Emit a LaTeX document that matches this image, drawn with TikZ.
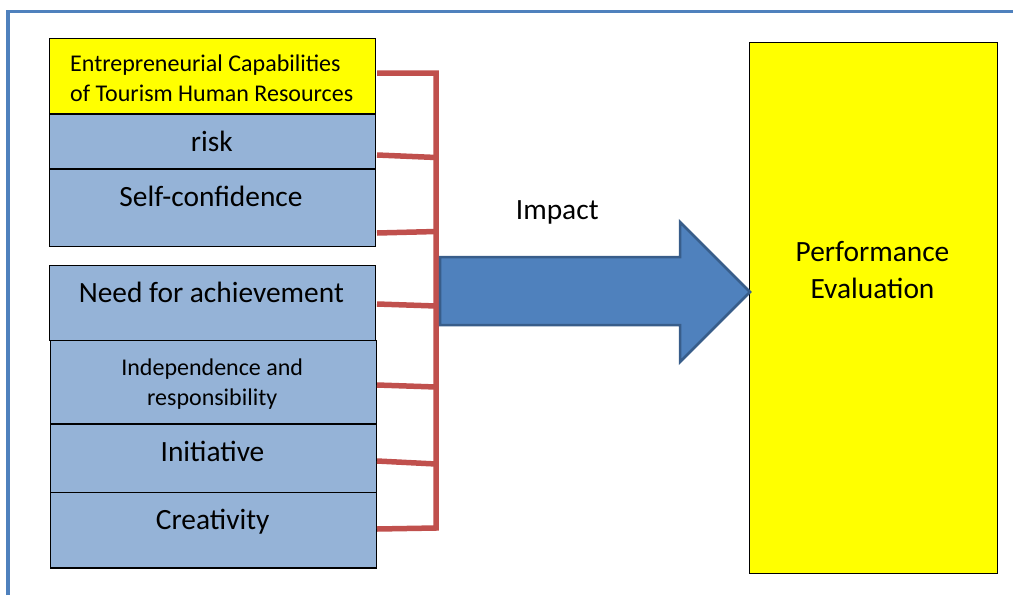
\documentclass[tikz,border=0pt]{standalone}
\usepackage{fontspec}
\setmainfont{Carlito}
\definecolor{frameblue}{HTML}{4F81BD}
\definecolor{boxblue}{HTML}{95B3D7}
\definecolor{arrowfill}{HTML}{4F81BD}
\definecolor{arrowline}{HTML}{385D8A}
\definecolor{bracketred}{HTML}{C0504D}
\definecolor{hiyellow}{HTML}{FFFF00}
\begin{document}
\begin{tikzpicture}[x=1pt,y=-1pt,
  capbox/.style={draw=black,line width=1.3pt,minimum width=326pt,inner sep=0pt,anchor=north west,fill=boxblue},
  bigtxt/.style={font=\fontsize{29.4}{36}\selectfont,inner sep=0pt,anchor=base},
  smalltxt/.style={font=\fontsize{24}{30}\selectfont,inner sep=0pt,anchor=base},
  bracket/.style={draw=bracketred,line width=5.5pt},
]
\useasboundingbox (0,0) rectangle (1013,595);
% outer frame
\draw[frameblue,line width=3.5pt] (8,595) -- (8,11.5) -- (1013,11.5);

% left boxes
\node[capbox,fill=hiyellow,minimum height=75.3pt] (ecap) at (49,38) {};
\node[capbox,minimum height=55pt] (risk) at (49,113.3) {};
\node[capbox,minimum height=77.7pt] (self) at (49,168.3) {};
\node[capbox,minimum height=75pt] (need) at (49,265) {};
\node[capbox,minimum height=83.3pt] (indep) at (49.5,340) {};
\node[capbox,minimum height=68.4pt] (init) at (49.5,423.3) {};
\node[capbox,minimum height=75.6pt] (creat) at (49.5,491.7) {};

% texts (multi-line nodes: base = baseline of last line)
\node[smalltxt,anchor=base west,align=left] (ecapT) at (70,101.7) {Entrepreneurial Capabilities\\of Tourism Human Resources};
\node[bigtxt] (riskT) at (211.7,151.7) {risk};
\node[bigtxt] (selfT) at (211,206.7) {Self-confidence};
\node[bigtxt] (needT) at (211.3,302.7) {Need for achievement};
\node[smalltxt,align=center] (indepT) at (212.2,405) {Independence and\\responsibility};
\node[bigtxt] (initT) at (212.5,461.7) {Initiative};
\node[bigtxt] (creatT) at (212.7,529.3) {Creativity};

% performance box
\node[draw=black,line width=1.3pt,fill=hiyellow,minimum width=247.7pt,minimum height=531pt,inner sep=0pt,anchor=north west] (perf) at (749,42) {};
\node[bigtxt,align=center,font=\fontsize{29.4}{37.3}\selectfont] (perfT) at (872.5,298.3) {Performance\\Evaluation};

% bracket
\coordinate (bTop) at (436,73);
\coordinate (bBot) at (436,528);
\draw[bracket,line join=miter] (377,73) -- (bTop) -- (bBot) -- (377,529);
\draw[bracket] (377,155) -- (436,157.5);
\draw[bracket] (377,233) -- (436,231.5);
\draw[bracket] (377,304) -- (436,306);
\draw[bracket] (377,385) -- (436,387);
\draw[bracket] (377,461) -- (436,464);

% impact arrow
\draw[fill=arrowfill,draw=arrowline,line width=2.5pt,line join=miter]
  (440,257) -- (680,257) -- (680,222) -- (750,292) -- (680,362) -- (680,325) -- (440,325) -- cycle;
\node[bigtxt,anchor=base west] (impactT) at (515.7,219) {Impact};
\end{tikzpicture}
\end{document}
